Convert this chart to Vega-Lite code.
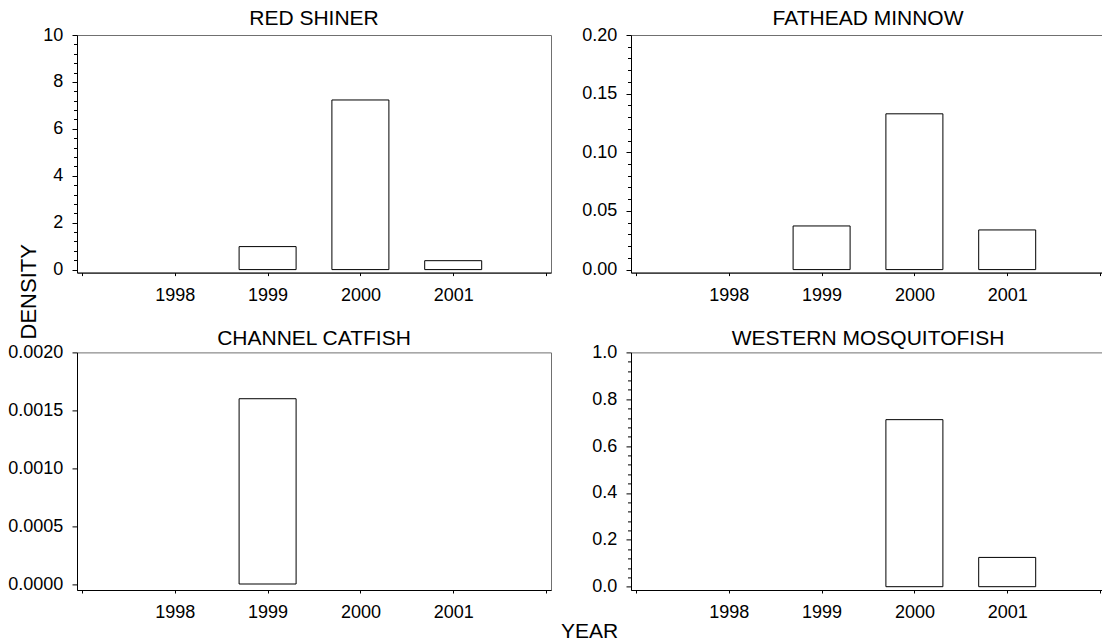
{
  "$schema": "https://vega.github.io/schema/vega-lite/v6.json",
  "background": "white",
  "padding": {"left": 7, "top": 7, "right": 0, "bottom": 0},
  "data": {"values": [
    {"species": "RED SHINER", "year": 1999, "density": 0.98},
    {"species": "RED SHINER", "year": 2000, "density": 7.23},
    {"species": "RED SHINER", "year": 2001, "density": 0.38},
    {"species": "FATHEAD MINNOW", "year": 1999, "density": 0.0372},
    {"species": "FATHEAD MINNOW", "year": 2000, "density": 0.1328},
    {"species": "FATHEAD MINNOW", "year": 2001, "density": 0.0338},
    {"species": "CHANNEL CATFISH", "year": 1999, "density": 0.0016},
    {"species": "WESTERN MOSQUITOFISH", "year": 2000, "density": 0.713},
    {"species": "WESTERN MOSQUITOFISH", "year": 2001, "density": 0.125}
  ]},
  "columns": 2,
  "spacing": {"row": 79.4, "column": 80},
  "bounds": "flush",
  "concat": [
    {
      "title": {"text": "RED SHINER", "offset": -3.3},
      "width": 474, "height": 237.6,
      "transform": [{"filter": "datum.species == 'RED SHINER'"}],
      "layer": [
        {
          "mark": {"type": "bar", "fill": "white", "stroke": "black", "strokeWidth": 1, "width": 57},
          "encoding": {
            "x": {"field": "year", "type": "quantitative", "scale": {"domain": [1997, 2002], "nice": false, "zero": false},
                  "axis": {"values": [1997, 1998, 1999, 2000, 2001, 2002], "labelExpr": "datum.value == 1997 || datum.value == 2002 ? '' : format(datum.value, 'd')", "tickSize": 3, "labelPadding": 10.5, "title": null}},
            "y": {"field": "density", "type": "quantitative", "scale": {"domain": [-0.128, 10], "nice": false},
                  "axis": {"values": [0, 2, 4, 6, 8, 10], "format": "d", "tickSize": 5, "labelPadding": 9.3,
                           "title": "DENSITY", "titleX": -42, "titleY": 256.3, "titleAngle": 270, "titleAlign": "center", "titleBaseline": "alphabetic", "titleFontSize": 22}}
          }
        },
        {
          "mark": {"type": "point", "opacity": 0},
          "encoding": {
            "y": {"field": "density", "type": "quantitative", "scale": {"domain": [-0.128, 10], "nice": false},
                  "axis": {"orient": "left", "values": [0.4, 0.8, 1.2, 1.6, 2.4, 2.8, 3.2, 3.6, 4.4, 4.8, 5.2, 5.6, 6.4, 6.8, 7.2, 7.6, 8.4, 8.8, 9.2, 9.6], "labels": false, "domain": false, "tickSize": 3.5, "title": null}}
          }
        }
      ],
      "resolve": {"axis": {"y": "independent"}}
    },
    {
      "title": {"text": "FATHEAD MINNOW", "offset": -3.3},
      "width": 474, "height": 237.6,
      "transform": [{"filter": "datum.species == 'FATHEAD MINNOW'"}],
      "layer": [
        {
          "mark": {"type": "bar", "fill": "white", "stroke": "black", "strokeWidth": 1, "width": 57},
          "encoding": {
            "x": {"field": "year", "type": "quantitative", "scale": {"domain": [1997, 2002], "nice": false, "zero": false},
                  "axis": {"values": [1997, 1998, 1999, 2000, 2001, 2002], "labelExpr": "datum.value == 1997 || datum.value == 2002 ? '' : format(datum.value, 'd')", "tickSize": 3, "labelPadding": 10.5, "title": null}},
            "y": {"field": "density", "type": "quantitative", "scale": {"domain": [-0.00256, 0.2], "nice": false},
                  "axis": {"values": [0, 0.05, 0.1, 0.15, 0.2], "format": ".2f", "tickSize": 5, "labelPadding": 9.3, "title": null}}
          }
        },
        {
          "mark": {"type": "point", "opacity": 0},
          "encoding": {
            "y": {"field": "density", "type": "quantitative", "scale": {"domain": [-0.00256, 0.2], "nice": false},
                  "axis": {"orient": "left", "values": [0.01, 0.02, 0.03, 0.04, 0.06, 0.07, 0.08, 0.09, 0.11, 0.12, 0.13, 0.14, 0.16, 0.17, 0.18, 0.19], "labels": false, "domain": false, "tickSize": 3.5, "title": null}}
          }
        }
      ],
      "resolve": {"axis": {"y": "independent"}}
    },
    {
      "title": {"text": "CHANNEL CATFISH", "offset": -5.3},
      "width": 474, "height": 237.6,
      "transform": [{"filter": "datum.species == 'CHANNEL CATFISH'"}],
      "mark": {"type": "bar", "fill": "white", "stroke": "black", "strokeWidth": 1, "width": 57},
      "encoding": {
        "x": {"field": "year", "type": "quantitative", "scale": {"domain": [1997, 2002], "nice": false, "zero": false},
              "axis": {"values": [1997, 1998, 1999, 2000, 2001, 2002], "labelExpr": "datum.value == 1997 || datum.value == 2002 ? '' : format(datum.value, 'd')", "tickSize": 3, "labelPadding": 10.5,
                       "title": "YEAR", "titleX": 512, "titleY": 47.4, "titleAlign": "center", "titleBaseline": "alphabetic", "titleFontSize": 21}},
        "y": {"field": "density", "type": "quantitative", "scale": {"domain": [-0.0000518, 0.002], "nice": false},
              "axis": {"values": [0, 0.0005, 0.001, 0.0015, 0.002], "format": ".4f", "tickSize": 5, "labelPadding": 9.3, "title": null}}
      }
    },
    {
      "title": {"text": "WESTERN MOSQUITOFISH", "offset": -5.3},
      "width": 474, "height": 237.6,
      "transform": [{"filter": "datum.species == 'WESTERN MOSQUITOFISH'"}],
      "layer": [
        {
          "mark": {"type": "bar", "fill": "white", "stroke": "black", "strokeWidth": 1, "width": 57},
          "encoding": {
            "x": {"field": "year", "type": "quantitative", "scale": {"domain": [1997, 2002], "nice": false, "zero": false},
                  "axis": {"values": [1997, 1998, 1999, 2000, 2001, 2002], "labelExpr": "datum.value == 1997 || datum.value == 2002 ? '' : format(datum.value, 'd')", "tickSize": 3, "labelPadding": 10.5, "title": null}},
            "y": {"field": "density", "type": "quantitative", "scale": {"domain": [-0.0141, 1], "nice": false},
                  "axis": {"values": [0, 0.2, 0.4, 0.6, 0.8, 1], "format": ".1f", "tickSize": 5, "labelPadding": 9.3, "title": null}}
          }
        },
        {
          "mark": {"type": "point", "opacity": 0},
          "encoding": {
            "y": {"field": "density", "type": "quantitative", "scale": {"domain": [-0.0141, 1], "nice": false},
                  "axis": {"orient": "left", "values": [0.04, 0.08, 0.12, 0.16, 0.24, 0.28, 0.32, 0.36, 0.44, 0.48, 0.52, 0.56, 0.64, 0.68, 0.72, 0.76, 0.84, 0.88, 0.92, 0.96], "labels": false, "domain": false, "tickSize": 3.5, "title": null}}
          }
        }
      ],
      "resolve": {"axis": {"y": "independent"}}
    }
  ],
  "config": {
    "font": "Liberation Sans",
    "view": {"stroke": "#707070", "strokeWidth": 1},
    "axis": {"labelFont": "Liberation Sans", "labelFontSize": 18, "labelColor": "black", "domainColor": "black", "tickColor": "black", "grid": false, "titleFont": "Liberation Sans", "titleFontWeight": "normal", "titleColor": "black"},
    "title": {"font": "Liberation Sans", "fontSize": 21, "fontWeight": "normal", "color": "black", "anchor": "middle"}
  }
}
